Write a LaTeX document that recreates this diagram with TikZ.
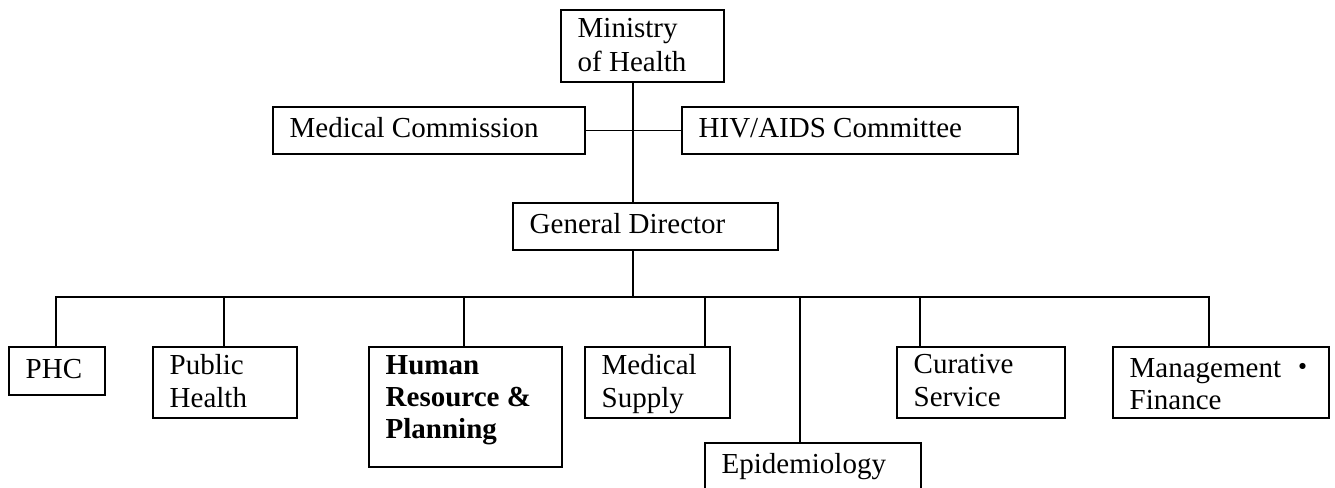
\documentclass[tikz,border=0pt]{standalone}
\usepackage{fontspec}
\setmainfont{Liberation Serif}
\newfontfamily\cjkfont{Noto Sans CJK JP}
\begin{document}
\begin{tikzpicture}[x=1pt,y=-1pt,
  box/.style={draw, line width=1.9pt, inner sep=0pt, anchor=north west},
  lbl/.style={anchor=base west, inner sep=0pt, align=left,
    font=\fontsize{29}{33}\selectfont},
  conn/.style={line width=1.9pt}]
\useasboundingbox (0,0) rectangle (1335,487);
% boxes
\node[box, minimum width=163pt, minimum height=72pt] (moh) at (560,9) {};
\node[box, minimum width=312pt, minimum height=47pt] (mc) at (272,106) {};
\node[box, minimum width=336pt, minimum height=47pt] (hiv) at (681,106) {};
\node[box, minimum width=265pt, minimum height=47pt] (gd) at (512,202) {};
\node[box, minimum width=96pt, minimum height=48pt] (phc) at (8,346) {};
\node[box, minimum width=144pt, minimum height=71pt] (ph) at (152,346) {};
\node[box, minimum width=193pt, minimum height=120pt] (hr) at (368,346) {};
\node[box, minimum width=145pt, minimum height=71pt] (ms) at (584,346) {};
\node[box, minimum width=216pt, minimum height=60pt] (epi) at (704,442) {};
\node[box, minimum width=168pt, minimum height=71pt] (cs) at (896,346) {};
\node[box, minimum width=216pt, minimum height=71pt] (mf) at (1112,346) {};
% labels (base = baseline of last line)
\node[lbl, font=\fontsize{29}{34}\selectfont] (mohT) at (577.5,71) {Ministry\\of Health};
\node[lbl] (mcT) at (289.5,137) {Medical Commission};
\node[lbl] (hivT) at (698.5,137) {HIV/AIDS Committee};
\node[lbl] (gdT) at (529.5,233) {General Director};
\node[lbl] (phcT) at (25.5,378) {PHC};
\node[lbl] (phT) at (169.5,407) {Public\\Health};
\node[lbl, font=\fontsize{29}{32}\selectfont\bfseries] (hrT) at (385.5,438) {Human\\Resource \&\\Planning};
\node[lbl] (msT) at (601.5,407) {Medical\\Supply};
\node[lbl] (epiT) at (721.5,473) {Epidemiology};
\node[lbl] (csT) at (913.5,406) {Curative\\Service};
\node[lbl, font=\fontsize{29}{32}\selectfont] (mfT) at (1129.5,409) {Management {\cjkfont ・}\\Finance};
% connectors
\coordinate (spine) at (633,129);
\draw[conn] (spine |- moh.south) -- (spine |- gd.north);
\draw[conn] (mc.east) -- (hiv.west);
\coordinate (bc) at (633,297);
\coordinate (b1) at (56,297);
\coordinate (b2) at (224,297);
\coordinate (b3) at (464,297);
\coordinate (b4) at (705,297);
\coordinate (b5) at (800,297);
\coordinate (b6) at (920,297);
\coordinate (b7) at (1209,297);
\draw[conn] (bc |- gd.south) -- (bc);
\draw[conn] (b1 |- phc.north) -- (b1) -- (b7) -- (b7 |- mf.north);
\draw[conn] (b2) -- (b2 |- ph.north);
\draw[conn] (b3) -- (b3 |- hr.north);
\draw[conn] (b4) -- (b4 |- ms.north);
\draw[conn] (b5) -- (b5 |- epi.north);
\draw[conn] (b6) -- (b6 |- cs.north);
\end{tikzpicture}
\end{document}
